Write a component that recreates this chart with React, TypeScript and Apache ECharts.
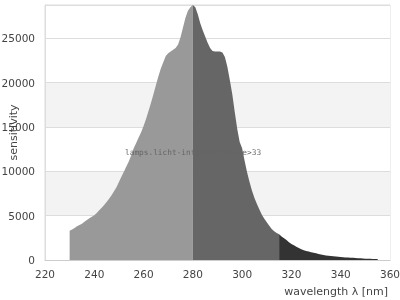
import React, { useEffect, useRef } from "react";
import * as echarts from "echarts";

const wavelengths: number[] = [];
for (let w = 230; w <= 355; w++) wavelengths.push(w);

const sensitivity = [
  3300, 3450, 3600, 3800, 3950, 4100, 4300, 4500, 4700, 4880,
  5050, 5300, 5600, 5900, 6200, 6550, 6900, 7300, 7750, 8200,
  8800, 9400, 9950, 10550, 11100, 11800, 12600, 13200, 13800, 14400,
  15100, 15900, 16800, 17700, 18700, 19700, 20700, 21600, 22300, 23000,
  23300, 23500, 23700, 23900, 24300, 25100, 26200, 27300, 28100, 28500,
  28750, 28500, 27700, 26700, 25900, 25200, 24500, 23900, 23550, 23500,
  23500, 23500, 23400, 22900, 21800, 20300, 18700, 16700, 14800, 13300,
  12600, 11200, 9900, 8800, 7800, 7000, 6300, 5700, 5100, 4650,
  4250, 3850, 3500, 3250, 3050, 2900, 2650, 2450, 2250, 2000,
  1800, 1650, 1500, 1350, 1200, 1100, 1020, 950, 880, 820,
  750, 680, 620, 560, 520, 480, 450, 420, 390, 360,
  330, 310, 290, 270, 255, 240, 220, 200, 185, 170,
  155, 140, 130, 120, 110, 100,
];

const segmentBounds = [230, 280, 315, 355];
const segmentColors = ["#999999", "#666666", "#333333"];
const xTicks = { min: 220, max: 360, interval: 20 };
const yTicks = { min: 0, max: 28750, interval: 5000 };
const watermark = "lamps.licht-information.de>33";

export default function App() {
  const ref = useRef<HTMLDivElement>(null);
  useEffect(() => {
    if (!ref.current) return;
    const chart = echarts.init(ref.current, undefined, { renderer: "svg" });
    const pairs = wavelengths.map((w, i) => [w, sensitivity[i]]);
    const series = segmentColors.map((c, s) => ({
      type: "line",
      showSymbol: false,
      symbol: "none",
      lineStyle: { width: 0 },
      areaStyle: { color: c, opacity: 1 },
      itemStyle: { color: c },
      data: pairs.filter(
        (p) => p[0] >= segmentBounds[s] && p[0] <= segmentBounds[s + 1]
      ),
    }));
    chart.setOption({
      animation: false,
      grid: {
        left: 45,
        right: 10,
        top: 5,
        bottom: 40,
        containLabel: false,
        outerBoundsMode: "none",
        show: true,
        borderColor: "#dddddd",
        borderWidth: 1,
        backgroundColor: "transparent",
      },
      xAxis: {
        type: "value",
        min: xTicks.min,
        max: xTicks.max,
        interval: xTicks.interval,
        name: "wavelength λ [nm]",
        nameLocation: "end",
        nameGap: -2,
        nameMoveOverlap: false,
        nameTextStyle: {
          align: "right",
          verticalAlign: "top",
          padding: [26, 0, 0, 0],
          fontSize: 11,
          color: "#444",
          fontFamily: "DejaVu Sans",
        },
        axisLine: { show: true, lineStyle: { color: "#cccccc" } },
        axisTick: { show: false },
        splitLine: { show: false },
        axisLabel: {
          fontSize: 10.5,
          color: "#444",
          fontFamily: "DejaVu Sans",
          margin: 8,
        },
      },
      yAxis: {
        type: "value",
        min: yTicks.min,
        max: yTicks.max,
        interval: yTicks.interval,
        name: "sensitivity",
        nameLocation: "middle",
        nameGap: 26,
        nameMoveOverlap: false,
        nameTextStyle: { fontSize: 11, color: "#444", fontFamily: "DejaVu Sans" },
        axisLine: { show: true, lineStyle: { color: "#dddddd" } },
        axisTick: { show: false },
        splitLine: { show: true, lineStyle: { color: "#dddddd" } },
        splitArea: {
          show: true,
          areaStyle: {
            color: ["#ffffff", "#f3f3f3", "#ffffff", "#f3f3f3", "#ffffff", "#ffffff"],
          },
        },
        axisLabel: {
          fontSize: 10.5,
          color: "#444",
          fontFamily: "DejaVu Sans",
          margin: 10,
          showMaxLabel: false,
          formatter: (v: number) => (v % yTicks.interval === 0 ? String(v) : ""),
        },
      },
      graphic: [
        {
          type: "text",
          left: 125,
          top: 148,
          z: 100,
          style: {
            text: watermark,
            fill: "#666666",
            fontSize: 7.8,
            fontFamily: "DejaVu Sans Mono",
          },
        },
      ],
      series,
    });
    return () => chart.dispose();
  }, []);
  return (
    <div
      ref={ref}
      style={{ position: "fixed", left: 0, top: 0, width: 400, height: 300 }}
    />
  );
}
